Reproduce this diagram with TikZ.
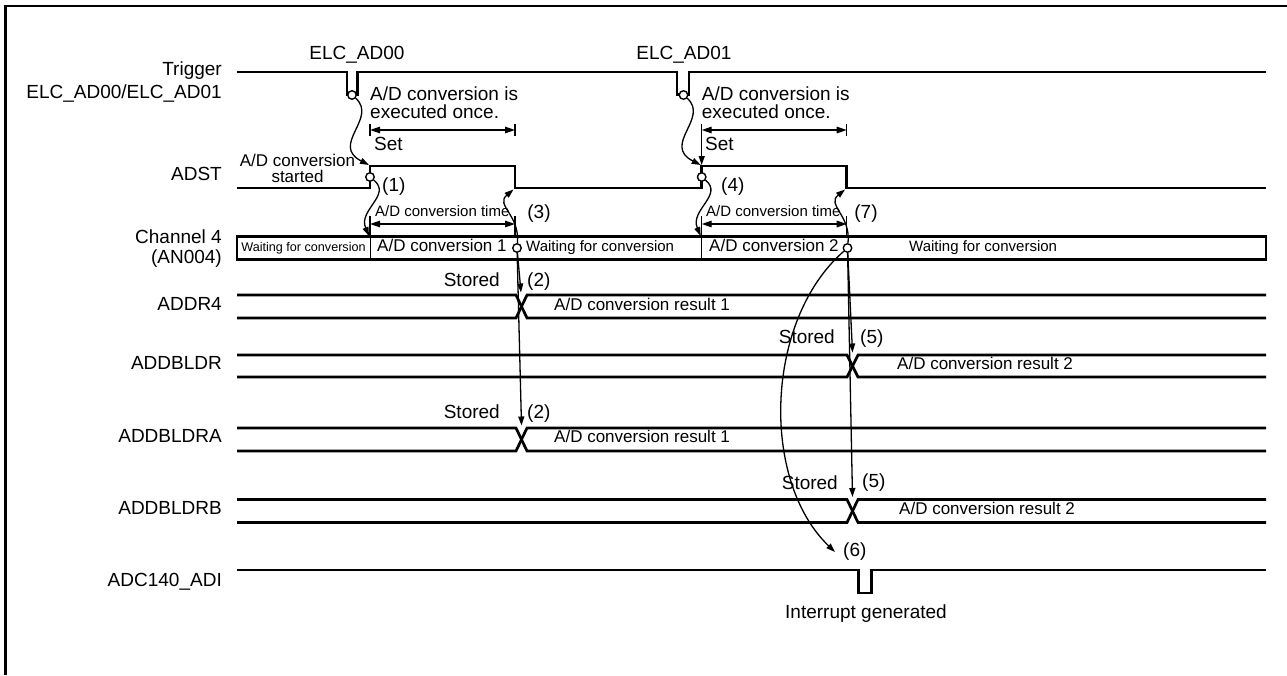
\documentclass[tikz,border=0pt]{standalone}
\usepackage{fontspec}
\setmainfont{Liberation Sans}
\usetikzlibrary{arrows.meta}
\newcommand\fbig{\fontsize{19}{21}\selectfont}
\newcommand\fmidd{\fontsize{17}{19}\selectfont}
\newcommand\fsml{\fontsize{15}{17}\selectfont}
\newcommand\ftiny{\fontsize{12.6}{14}\selectfont}
\begin{document}
\begin{tikzpicture}[x=1pt,y=-1pt,
  txt/.style={inner sep=0pt, text height=0.716em, text depth=0pt, font=\fbig},
  lab/.style={txt, anchor=east},
  sig/.style={line width=2.7pt, line join=miter},
  bx/.style={line width=2.4pt},
  thinln/.style={line width=1pt},
  ring/.style={circle, draw, line width=1.4pt, minimum size=8.5pt, inner sep=0pt, fill=white},
  arr/.style={line width=1.3pt, -{Triangle[length=9pt,width=6pt]}},
  dim/.style={line width=1.3pt, {Triangle[length=10pt,width=6.5pt]}-{Triangle[length=10pt,width=6.5pt]}},
  tick/.style={line width=1.3pt}
]
\useasboundingbox (0,0) rectangle (1287,675);
% frame
\draw[line width=2.6pt] (5.5,675) -- (5.5,6) -- (1287,6);

% left labels
\node[lab] (lTrig) at (222,72) {Trigger};
\node[lab] (lTrig2) at (222,95) {ELC\_AD00/ELC\_AD01};
\node[lab] (lADST) at (222,177) {ADST};
\node[lab] (lCh) at (222,240) {Channel 4};
\node[lab] (lAN) at (222,259.5) {(AN004)};
\node[lab] (lADDR4) at (222,307) {ADDR4};
\node[lab] (lDBL) at (222,366) {ADDBLDR};
\node[lab] (lDBLA) at (222,439) {ADDBLDRA};
\node[lab] (lDBLB) at (222,511) {ADDBLDRB};
\node[lab] (lADI) at (222,583) {ADC140\_ADI};

% trigger
\draw[sig] (237,72) -- (347,72) -- (347,94.5) -- (357.5,94.5) -- (357.5,72) -- (677,72) -- (677,94.5) -- (689,94.5) -- (689,72) -- (1266,72);
\node[txt] (tE0) at (357,56) {ELC\_AD00};
\node[txt] (tE1) at (684,56) {ELC\_AD01};

% ADST
\draw[sig] (237,188) -- (370,188) -- (370,166) -- (515,166) -- (515,188) -- (701.7,188) -- (701.7,166) -- (846.7,166) -- (846.7,188) -- (1266,188);
\node[txt, font=\fmidd] (tSt1) at (297.5,163) {A/D conversion};
\node[txt, font=\fmidd] (tSt2) at (297.5,179) {started};

% channel 4 box
\draw[bx] (237,236.5) rectangle (1266,259.5);
\draw[thinln] (370,236.5) -- (370,259.5);
\draw[thinln] (701.7,236.5) -- (701.7,259.5);
\node[txt, font=\ftiny] (w0) at (303.5,248) {Waiting for conversion};
\node[txt, font=\fmidd, anchor=west] (cv1) at (377,248) {A/D conversion 1};
\node[txt, font=\fsml, anchor=west] (w1) at (526,248) {Waiting for conversion};
\node[txt, font=\fmidd, anchor=west] (cv2) at (709,248) {A/D conversion 2};
\node[txt, font=\fsml, anchor=west] (w2) at (909,248) {Waiting for conversion};

% buses
\draw[sig] (237,295) -- (516,295) -- (527,318) -- (1266,318);
\draw[sig] (237,318) -- (516,318) -- (527,295) -- (1266,295);
\draw[sig] (237,355) -- (847,355) -- (858,377) -- (1266,377);
\draw[sig] (237,377) -- (847,377) -- (858,355) -- (1266,355);
\draw[sig] (237,428) -- (516,428) -- (527,451) -- (1266,451);
\draw[sig] (237,451) -- (516,451) -- (527,428) -- (1266,428);
\draw[sig] (237,499.5) -- (847,499.5) -- (858,522.5) -- (1266,522.5);
\draw[sig] (237,522.5) -- (847,522.5) -- (858,499.5) -- (1266,499.5);
\node[txt, font=\fmidd, anchor=west] (r1a) at (554,307) {A/D conversion result 1};
\node[txt, font=\fmidd, anchor=west] (r2a) at (897,366) {A/D conversion result 2};
\node[txt, font=\fmidd, anchor=west] (r1b) at (554,439) {A/D conversion result 1};
\node[txt, font=\fmidd, anchor=west] (r2b) at (899,511) {A/D conversion result 2};

% ADI
\draw[sig] (237,570) -- (858.5,570) -- (858.5,593) -- (871.5,593) -- (871.5,570) -- (1266,570);
\node[txt] (tInt) at (866,615) {Interrupt generated};

% dimension: executed once
\coordinate (d1a) at (370,130); \coordinate (d1b) at (515,130);
\coordinate (d2a) at (701.7,130); \coordinate (d2b) at (846.7,130);
\draw[tick] (370,124) -- (370,136);
\draw[tick] (515,124) -- (515,136);
\draw[tick] (846.7,124) -- (846.7,136);
\draw[dim] (d1a) -- (d1b);
\draw[dim] (d2a) -- (d2b);
\node[txt, anchor=west] (ex1a) at (370,97) {A/D conversion is};
\node[txt, anchor=west] (ex1b) at (370,115) {executed once.};
\node[txt, anchor=west] (ex2a) at (701.7,97) {A/D conversion is};
\node[txt, anchor=west] (ex2b) at (701.7,115) {executed once.};
\node[txt, anchor=west] (set1) at (374,147) {Set};
\node[txt, anchor=west] (set2) at (705,147) {Set};
\coordinate (s2top) at (701.7,124);
\coordinate (s2bot) at (701.7,165);
\draw[arr] (s2top) -- (s2bot);

% dimension: conversion time
\coordinate (t1a) at (370,224); \coordinate (t1b) at (515,224);
\coordinate (t2a) at (701.7,224); \coordinate (t2b) at (846.7,224);
\draw[tick] (370,216) -- (370,236);
\draw[tick] (515,216) -- (515,236);
\draw[tick] (701.7,216) -- (701.7,236);
\draw[tick] (846.7,216) -- (846.7,236);
\draw[dim] (t1a) -- (t1b);
\draw[dim] (t2a) -- (t2b);
\node[txt, font=\fsml, anchor=west] (ct1) at (375,213) {A/D conversion time};
\node[txt, font=\fsml, anchor=west] (ct2) at (706,213) {A/D conversion time};

% rings
\node[ring] (c1) at (352,95) {};
\node[ring] (c2) at (683.5,95) {};
\node[ring] (c5) at (370,177) {};
\node[ring] (c6) at (701.7,177) {};
\node[ring] (c3) at (517,248) {};
\node[ring] (c4) at (847.5,248) {};

% wavy arrows
\coordinate (a1) at (369,165);
\coordinate (a2) at (700.7,165);
\draw[arr] (c1) .. controls (378,118) and (330,145) .. (a1);
\draw[arr] (c2) .. controls (709.5,118) and (661.5,145) .. (a2);
\coordinate (b1) at (369,236);
\coordinate (b2) at (700.7,236);
\draw[arr] (c5) .. controls (392,195) and (358,210) .. (b1);
\draw[arr] (c6) .. controls (723.7,195) and (689.7,210) .. (b2);
\coordinate (f1) at (513.5,189.5);
\coordinate (f2) at (845,189.5);
\draw[arr] (c3) .. controls (520,215) and (495,205) .. (f1);
\draw[arr] (c4) .. controls (851,215) and (826,205) .. (f2);

% store arrows
\coordinate (x1) at (521,292.5);
\coordinate (x2) at (521.5,425.5);
\coordinate (x3) at (852.5,352.5);
\coordinate (x4) at (852.5,497);
\draw[arr] (c3) -- (x1);
\draw[arr] (c3) -- (x2);
\draw[arr] (c4) -- (x3);
\draw[arr] (c4) -- (x4);
\coordinate (i6) at (835,552);
\draw[arr] (c4) .. controls (765,320) and (760,480) .. (i6);

% numbers and stored
\node[txt, anchor=west] (n1) at (382,188) {(1)};
\node[txt, anchor=west] (n4) at (721,188) {(4)};
\node[txt] (n3) at (539,215) {(3)};
\node[txt] (n7) at (866,215) {(7)};
\node[txt, anchor=east] (st1) at (500,283) {Stored};
\node[txt, anchor=west] (n2a) at (527,283) {(2)};
\node[txt, anchor=east] (st2) at (835,340) {Stored};
\node[txt, anchor=west] (n5a) at (860,340) {(5)};
\node[txt, anchor=east] (st3) at (500,415) {Stored};
\node[txt, anchor=west] (n2b) at (527,415) {(2)};
\node[txt, anchor=east] (st4) at (838,486) {Stored};
\node[txt, anchor=west] (n5b) at (862,484) {(5)};
\node[txt, anchor=west] (n6) at (843,553) {(6)};
\end{tikzpicture}
\end{document}
